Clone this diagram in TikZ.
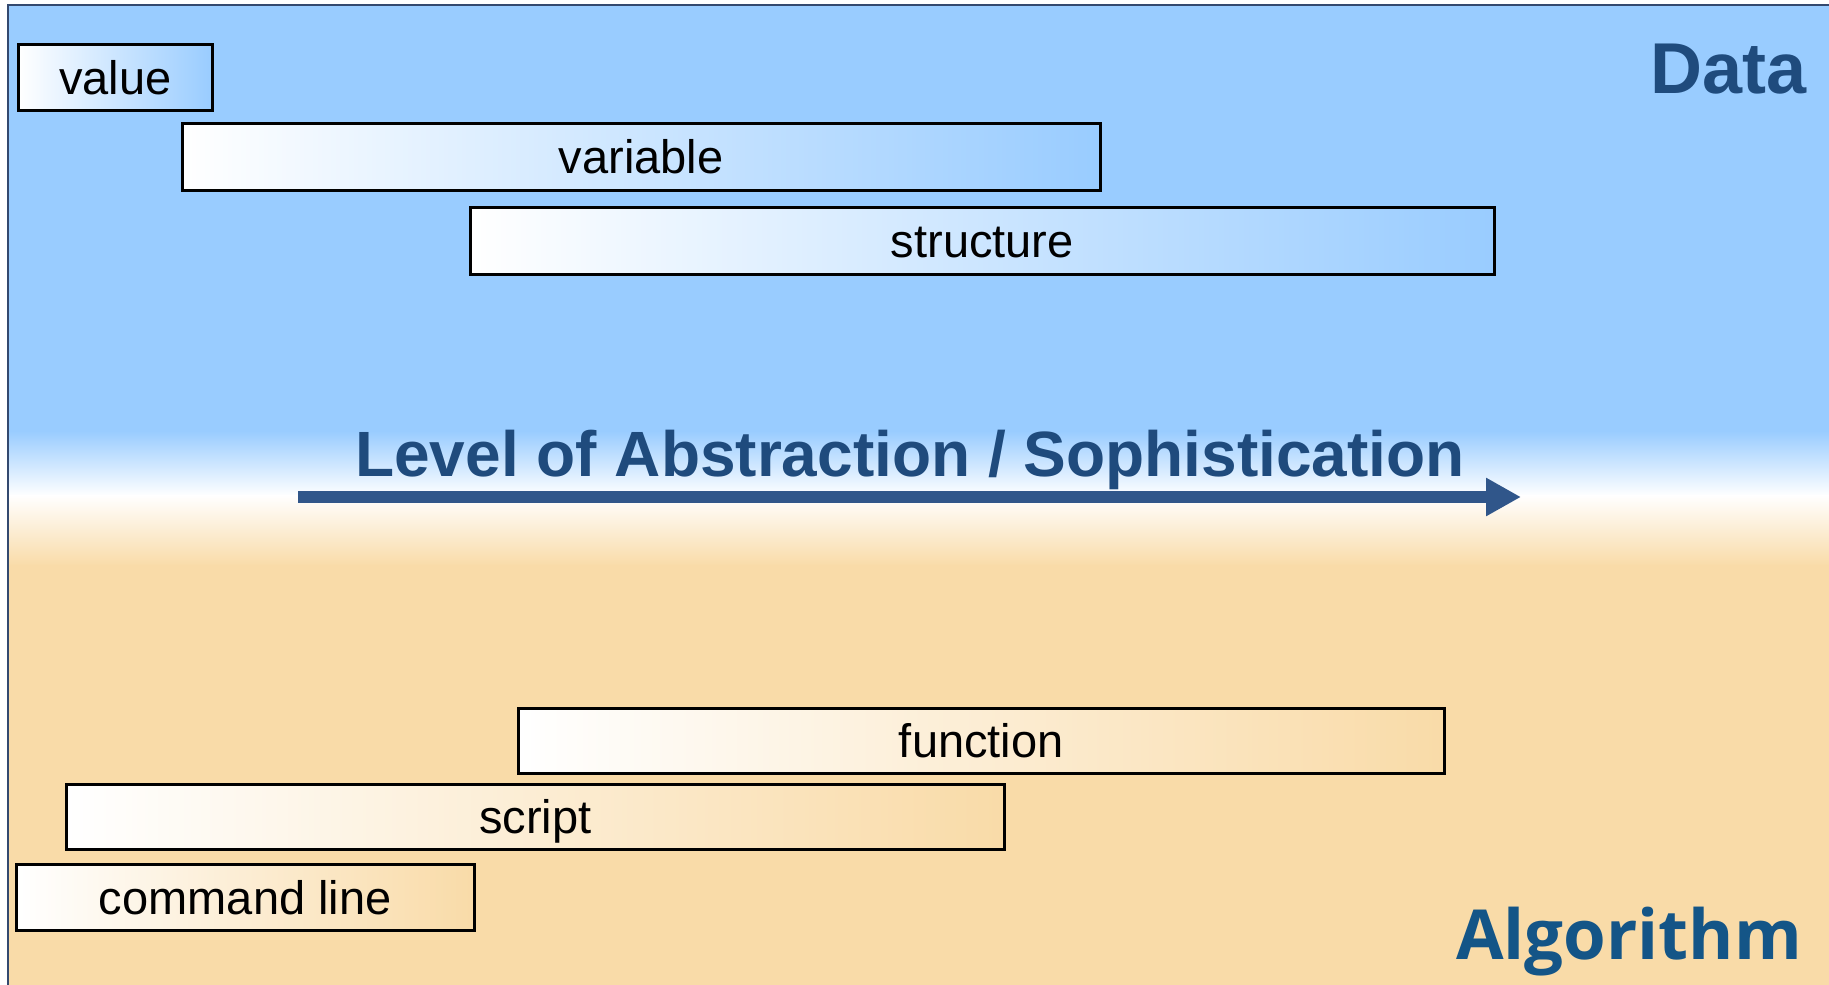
\documentclass[tikz,border=0pt]{standalone}
\usepackage{fontspec}
\setmainfont{Liberation Sans}
\newfontfamily\headfont{Liberation Sans}[BoldFont={Liberation Sans Bold}]
\newfontfamily\algofont{Open Sans}
\usetikzlibrary{arrows.meta}
\definecolor{skyblue}{HTML}{99CCFF}
\definecolor{sand}{HTML}{F9DBA8}
\definecolor{navytext}{HTML}{1F4B7D}
\definecolor{arrowblue}{HTML}{30568A}
\definecolor{algoblue}{HTML}{145587}
\definecolor{framecol}{HTML}{33496F}
\tikzset{
  levelbox/.style={draw=black, line width=2.5pt, inner sep=0pt, anchor=north west,
    text height=40pt, text depth=6pt,
    font=\fontsize{47}{56}\selectfont},
  databox/.style={levelbox, left color=white, right color=skyblue},
  algobox/.style={levelbox, left color=white, right color=sand},
}
\begin{document}
\begin{tikzpicture}[x=1pt,y=-1pt]
\useasboundingbox (0,0) rectangle (1829,985);
% background bands
\fill[white] (0,0) rectangle (1829,985);
\fill[skyblue] (7,5) rectangle (1829,432);
\shade[top color=skyblue, bottom color=white] (7,431) rectangle (1829,496);
\shade[top color=white, bottom color=sand] (7,495) rectangle (1829,566);
\fill[sand] (7,565) rectangle (1829,985);
\draw[framecol, line width=2pt] (7.5,985) -- (7.5,5) -- (1829,5);

% data boxes
\node[databox, minimum width=194pt, minimum height=66pt] (value) at (17,43) {value};
\node[databox, minimum width=918pt, minimum height=67pt] (variable) at (181,122) {variable};
\node[databox, minimum width=1024pt, minimum height=67pt] (structure) at (469,206) {structure};

% algorithm boxes
\node[algobox, minimum width=926pt, minimum height=65pt] (function) at (517,707) {function};
\node[algobox, minimum width=938pt, minimum height=65pt] (script) at (65,783) {script};
\node[algobox, minimum width=458pt, minimum height=66pt] (cmdline) at (15,863) {command line};

% corner titles
\node[anchor=base east, inner sep=0pt, text=navytext,
  font=\headfont\bfseries\fontsize{72}{80}\selectfont] (data) at (1807,93) {Data};
\node[anchor=base east, inner sep=0pt, text=algoblue,
  font=\algofont\bfseries\fontsize{69}{78}\selectfont] (algo) at (1802,959) {Algorithm};

% abstraction axis
\coordinate (axstart) at (298,497);
\coordinate (axend) at (1521,497);
\draw[arrowblue, line width=12.5pt, -{Triangle[length=35pt,width=36pt]}] (axstart) -- (axend);
\node[anchor=base, inner sep=0pt, text=navytext,
  font=\headfont\bfseries\fontsize{64}{72}\selectfont] (level) at (910,476)
  {Level of Abstraction / Sophistication};
\end{tikzpicture}
\end{document}
